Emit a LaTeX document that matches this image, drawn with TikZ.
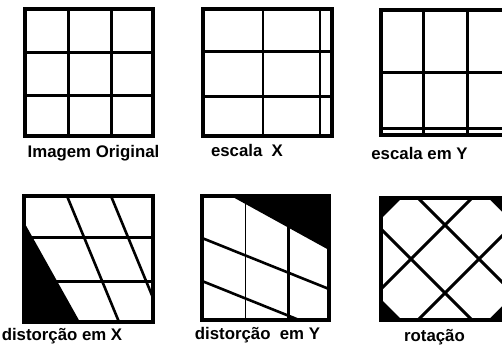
\documentclass[tikz,border=0pt]{standalone}
\usepackage{fontspec}
\setmainfont{Liberation Sans}
\begin{document}
\begin{tikzpicture}[x=1pt,y=-1pt,
  gridline/.style={line width=3pt},
  slantline/.style={line width=2.6pt},
  thinline/.style={line width=2pt},
  hairline/.style={line width=1pt},
  frame/.style={line width=3.2pt},
  caption/.style={anchor=base,inner sep=0pt,font=\fontsize{16.8}{20}\selectfont\bfseries}]
\clip (0,0) rectangle (502,348);
\fill[white] (0,0) rectangle (502,348);

% Panel 1: original
\draw[gridline] (68,9) -- (68,136) (111,9) -- (111,136) (25,52) -- (153,52) (25,95) -- (153,95);
\draw[frame] (25,9) rectangle (153,136);
\node[caption] (t1) at (93.5,157) {Imagem Original};

% Panel 2: escala X
\draw[gridline] (203,51) -- (332,51) (203,96) -- (332,96);
\draw[thinline] (263,9) -- (263,136) (320,9) -- (320,136);
\draw[frame] (203,9) rectangle (332,136);
\node[caption] (t2) at (247,156) {escala\ \ X};

% Panel 3: escala em Y
\draw[gridline] (423,10) -- (423,135) (467,10) -- (467,135) (381,72) -- (511,72) (381,128) -- (511,128);
\draw[frame] (381,10) rectangle (511,135);
\node[caption] (t3) at (419.5,159) {escala em Y};

% Panel 4: distorcao em X
\begin{scope}
\clip (24,196) rectangle (153,322);
\fill[black] (24,222) -- (80,322) -- (24,322) -- cycle;
\draw[gridline] (24,237) -- (153,237) (24,281) -- (153,281);
\draw[slantline] (67,196) -- (119,322) (111,196) -- (163,322);
\end{scope}
\draw[frame] (24,196) rectangle (153,322);
\node[caption] (t4) at (62,340) {distorção em X};

% Panel 5: distorcao em Y
\begin{scope}
\clip (202,196) rectangle (329,320);
\fill[black] (231,196) -- (329,196) -- (329,250) -- cycle;
\draw[hairline] (245,196) -- (245,320);
\draw[gridline] (288,226) -- (288,320);
\draw[slantline] (202,238) -- (329,289) (202,281) -- (329,332);
\end{scope}
\draw[frame] (202,196) rectangle (329,320);
\node[caption] (t5) at (257.5,339) {distorção\ \ em Y};

% Panel 6: rotacao
\begin{scope}
\clip (381,198) rectangle (509,320);
\fill[black] (381,198) rectangle (509,320);
\fill[white] (445-104,259) -- (445,259-104) -- (445+104,259) -- (445,259+104) -- cycle;
\draw[gridline] (445-34-80,259-80) -- (445-34+80,259+80)
                (445+34-80,259-80) -- (445+34+80,259+80)
                (445-34-80,259+80) -- (445-34+80,259-80)
                (445+34-80,259+80) -- (445+34+80,259-80);
\end{scope}
\draw[frame] (381,198) rectangle (509,320);
\node[caption] (t6) at (434.5,341) {rotação};
\end{tikzpicture}
\end{document}
